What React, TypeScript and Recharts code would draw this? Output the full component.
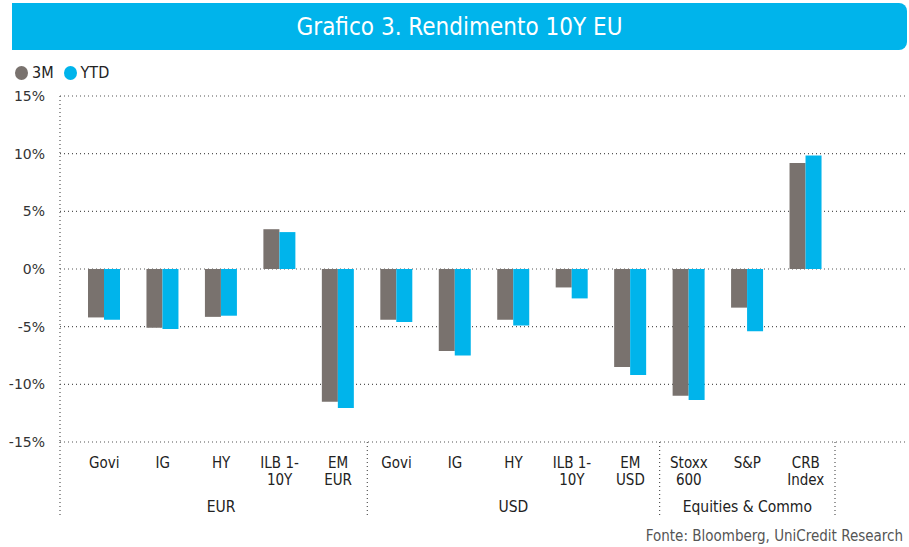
import React from 'react';
import { BarChart, Bar, XAxis, YAxis, CartesianGrid } from 'recharts';

const categories = ['Govi', 'IG', 'HY', 'ILB 1-\n10Y', 'EM\nEUR', 'Govi', 'IG', 'HY', 'ILB 1-\n10Y', 'EM\nUSD', 'Stoxx\n600', 'S&P', 'CRB\nIndex'];
const groups = ['EUR', 'EUR', 'EUR', 'EUR', 'EUR', 'USD', 'USD', 'USD', 'USD', 'USD', 'Equities & Commo', 'Equities & Commo', 'Equities & Commo'];
const m3 = [-4.2, -5.1, -4.15, 3.45, -11.5, -4.4, -7.1, -4.4, -1.6, -8.5, -11.0, -3.35, 9.2];
const ytd = [-4.4, -5.2, -4.05, 3.2, -12.05, -4.6, -7.5, -4.9, -2.55, -9.2, -11.35, -5.4, 9.85];
const yTicks = [-15, -10, -5, 0, 5, 10, 15];

const data = categories.map((c, i) => ({ id: i, label: c, group: groups[i], m3: m3[i], ytd: ytd[i] }));

const W = 909;
const H = 547;
const PLOT_LEFT = 60;
const PLOT_RIGHT = 906;
const PAD_L = 15;
const PAD_R = 71;
const BAND = (PLOT_RIGHT - PLOT_LEFT - PAD_L - PAD_R) / categories.length;

const GRAY = '#79726e';
const BLUE = '#00b4eb';
const LABEL_FONT = "'Liberation Sans Narrow', 'DejaVu Sans Condensed', 'Open Sans', sans-serif";
const DOT = '1 3';

function groupInfo(i: number) {
  const g = groups[i];
  const first = groups.indexOf(g);
  const last = groups.lastIndexOf(g);
  return { g, first, last };
}

const CategoryTick = (props: any) => {
  const { x, y, payload } = props;
  const i = Number(payload.value);
  const lines = categories[i].split('\n');
  const { g, first, last } = groupInfo(i);
  const mid = (first + last) / 2;
  const els: any[] = [];
  lines.forEach((ln, k) => {
    els.push(
      <text key={'l' + k} x={x} y={y + 26 + k * 17} textAnchor="middle" fontSize={15} fill="#222" fontFamily={LABEL_FONT}>
        {ln}
      </text>
    );
  });
  if (i === Math.floor(mid)) {
    const gx = x + (mid - i) * BAND;
    els.push(
      <text key="g" x={gx} y={y + 70} textAnchor="middle" fontSize={15.5} fill="#222" fontFamily={LABEL_FONT}>
        {g}
      </text>
    );
  }
  if (i === last) {
    const sx = x + BAND / 2;
    els.push(<line key="s" x1={sx} x2={sx} y1={y} y2={y + 74} stroke="#555" strokeDasharray={DOT} strokeWidth={1.2} />);
  }
  if (i === 0) {
    const sx = x - BAND / 2 - PAD_L;
    els.push(<line key="a" x1={sx} x2={sx} y1={y} y2={y + 74} stroke="#555" strokeDasharray={DOT} strokeWidth={1.2} />);
  }
  return <g>{els}</g>;
};

export default function App() {
  return (
    <div style={{ position: 'absolute', left: 0, top: 0, width: W, height: H, background: '#fff', overflow: 'hidden' }}>
      <div
        style={{
          position: 'absolute',
          left: 12,
          top: 3,
          width: 895,
          height: 47,
          background: BLUE,
          borderRadius: '0 8px 8px 0',
          color: '#fff',
          fontFamily: LABEL_FONT,
          fontSize: 24,
          lineHeight: '49px',
          textAlign: 'center',
        }}
      >
        Grafico 3. Rendimento 10Y EU
      </div>
      <div style={{ position: 'absolute', left: 15, top: 63, display: 'flex', alignItems: 'center', fontFamily: LABEL_FONT, fontSize: 16, color: '#222' }}>
        <span style={{ width: 13, height: 14, borderRadius: '50%', background: GRAY, display: 'inline-block', marginRight: 4 }} />
        <span style={{ marginRight: 10 }}>3M</span>
        <span style={{ width: 13, height: 14, borderRadius: '50%', background: BLUE, display: 'inline-block', marginRight: 4 }} />
        <span>YTD</span>
      </div>
      <div style={{ position: 'absolute', right: 6, top: 527, fontFamily: LABEL_FONT, fontSize: 15, color: '#555' }}>
        Fonte: Bloomberg, UniCredit Research
      </div>
      <div style={{ position: 'absolute', left: 0, top: 0 }}>
        <BarChart width={W} height={H} data={data} margin={{ top: 96, right: W - PLOT_RIGHT, bottom: 15, left: 0 }} barGap={0} barSize={16}>
          <CartesianGrid vertical={false} stroke="#555" strokeDasharray={DOT} strokeWidth={1.2} />
          <XAxis
            dataKey="id"
            type="category"
            height={90}
            padding={{ left: PAD_L, right: PAD_R }}
            tickLine={false}
            axisLine={false}
            tickSize={0}
            tickMargin={0}
            interval={0}
            tick={<CategoryTick />}
          />
          <YAxis
            width={PLOT_LEFT}
            domain={[-15, 15]}
            ticks={yTicks}
            tickFormatter={(v: number) => `${v}%`}
            tickLine={false}
            axisLine={{ stroke: '#555', strokeDasharray: DOT, strokeWidth: 1.2 }}
            tickMargin={9}
            tick={{ fontSize: 14, fill: '#333', fontFamily: "'DejaVu Sans', sans-serif" }}
            allowDataOverflow
          />
          <Bar dataKey="m3" fill={GRAY} isAnimationActive={false} />
          <Bar dataKey="ytd" fill={BLUE} isAnimationActive={false} />
        </BarChart>
      </div>
    </div>
  );
}
